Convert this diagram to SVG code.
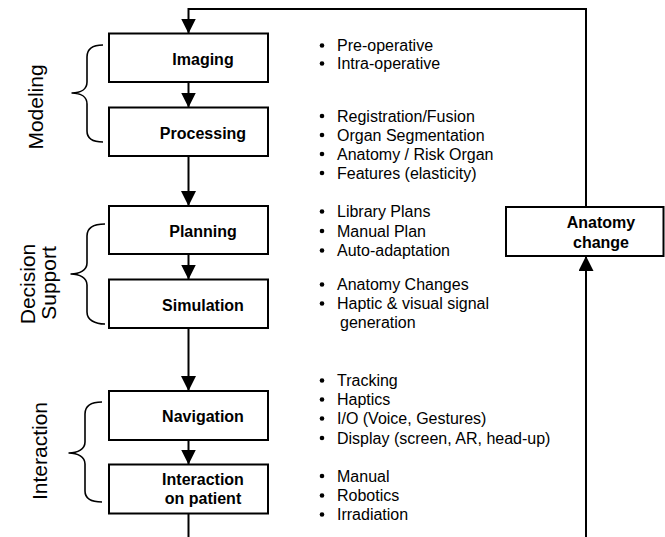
<svg xmlns="http://www.w3.org/2000/svg" width="665" height="537" viewBox="0 0 665 537">
<style>
.box{fill:#fff;stroke:#000;stroke-width:2}
.lbl{font-family:"Liberation Sans",Arial,sans-serif;font-size:16px;font-weight:bold;text-anchor:middle;fill:#000}
.bul{font-family:"Liberation Sans",Arial,sans-serif;font-size:16px;fill:#000}
.grp{font-family:"Liberation Sans",Arial,sans-serif;font-size:21px;text-anchor:middle;fill:#000}
.ln{fill:none;stroke:#000;stroke-width:2}
.brace{fill:none;stroke:#000;stroke-width:1.6}
</style>
<defs>
<marker id="ah" markerUnits="userSpaceOnUse" markerWidth="16" markerHeight="16" refX="15" refY="7.5" orient="auto">
<path d="M0,0 L15,7.5 L0,15 z" fill="#000"/>
</marker>
</defs>
<rect width="665" height="537" fill="#fff"/>
<g id="connectors">
<polyline class="ln" points="586,207 586,9 188.5,9 188.5,33.5" marker-end="url(#ah)"/>
<line class="ln" x1="188.5" y1="82" x2="188.5" y2="107.5" marker-end="url(#ah)"/>
<line class="ln" x1="188.5" y1="156" x2="188.5" y2="206" marker-end="url(#ah)"/>
<line class="ln" x1="188.5" y1="254" x2="188.5" y2="279.5" marker-end="url(#ah)"/>
<line class="ln" x1="188.5" y1="328" x2="188.5" y2="391" marker-end="url(#ah)"/>
<line class="ln" x1="188.5" y1="440" x2="188.5" y2="464.5" marker-end="url(#ah)"/>
<line class="ln" x1="188.5" y1="514" x2="188.5" y2="537"/>
<line class="ln" x1="586" y1="537" x2="586" y2="256" marker-end="url(#ah)"/>
</g>
<g id="imaging">
<rect class="box" x="109" y="33.5" width="159" height="48.5"/>
<text class="lbl" x="203" y="64.5">Imaging</text>
</g>
<g id="processing">
<rect class="box" x="109" y="107.5" width="159" height="48.5"/>
<text class="lbl" x="203" y="139">Processing</text>
</g>
<g id="planning">
<rect class="box" x="109" y="206" width="159" height="48"/>
<text class="lbl" x="203" y="237">Planning</text>
</g>
<g id="simulation">
<rect class="box" x="109" y="279.5" width="159" height="48.5"/>
<text class="lbl" x="203" y="310.5">Simulation</text>
</g>
<g id="navigation">
<rect class="box" x="109" y="391" width="159" height="49"/>
<text class="lbl" x="203" y="421.5">Navigation</text>
</g>
<g id="interaction-on-patient">
<rect class="box" x="109" y="464.5" width="159" height="49"/>
<text class="lbl" x="203" y="485">Interaction</text>
<text class="lbl" x="203" y="504">on patient</text>
</g>
<g id="anatomy-change">
<rect class="box" x="506" y="207" width="157.5" height="49"/>
<text class="lbl" x="601" y="228">Anatomy</text>
<text class="lbl" x="601" y="248">change</text>
</g>
<g id="modeling">
<path class="brace" d="M103,45 C93,45 87,48 87,57 L87,82 C87,89 81,93 71.5,93 C81,93 87,97 87,104 L87,131 C87,139 93,142 103,142"/>
<text class="grp" transform="translate(43,107) rotate(-90)">Modeling</text>
</g>
<g id="decision-support">
<path class="brace" d="M105,224 C95,224 87,227 87,236 L87,263 C87,270 80,274 70.5,274 C80,274 87,278 87,285 L87,312 C87,320 95,324 105,324"/>
<text class="grp" transform="translate(35,284) rotate(-90)">Decision</text>
<text class="grp" transform="translate(55.5,283) rotate(-90)">Support</text>
</g>
<g id="interaction">
<path class="brace" d="M102,402 C92,402 85,405 85,414 L85,442 C85,449 78,453 68.5,453 C78,453 85,457 85,464 L85,491 C85,499 92,502 102,502"/>
<text class="grp" transform="translate(46.5,451) rotate(-90)">Interaction</text>
</g>
<g id="bullets" class="bul">
<g fill="#000">
<circle cx="322" cy="45.5" r="2.3"/><circle cx="322" cy="63.5" r="2.3"/>
<circle cx="322" cy="116" r="2.3"/><circle cx="322" cy="135" r="2.3"/><circle cx="322" cy="154" r="2.3"/><circle cx="322" cy="173" r="2.3"/>
<circle cx="322" cy="211.5" r="2.3"/><circle cx="322" cy="231" r="2.3"/><circle cx="322" cy="250.5" r="2.3"/>
<circle cx="322" cy="284.5" r="2.3"/><circle cx="322" cy="303.5" r="2.3"/>
<circle cx="322" cy="380.5" r="2.3"/><circle cx="322" cy="399.5" r="2.3"/><circle cx="322" cy="418.5" r="2.3"/><circle cx="322" cy="438" r="2.3"/>
<circle cx="322" cy="476" r="2.3"/><circle cx="322" cy="495.5" r="2.3"/><circle cx="322" cy="514.5" r="2.3"/>
</g>
<text x="337" y="51">Pre-operative</text>
<text x="337" y="69">Intra-operative</text>
<text x="337" y="121.5">Registration/Fusion</text>
<text x="337" y="140.5">Organ Segmentation</text>
<text x="337" y="159.5">Anatomy / Risk Organ</text>
<text x="337" y="178.5">Features (elasticity)</text>
<text x="337" y="217">Library Plans</text>
<text x="337" y="236.5">Manual Plan</text>
<text x="337" y="256">Auto-adaptation</text>
<text x="337" y="290">Anatomy Changes</text>
<text x="337" y="309">Haptic &amp; visual signal</text>
<text x="340" y="327.5">generation</text>
<text x="337" y="386">Tracking</text>
<text x="337" y="405">Haptics</text>
<text x="337" y="424">I/O (Voice, Gestures)</text>
<text x="337" y="443.5">Display (screen, AR, head-up)</text>
<text x="337" y="481.5">Manual</text>
<text x="337" y="501">Robotics</text>
<text x="337" y="520">Irradiation</text>
</g>
</svg>
